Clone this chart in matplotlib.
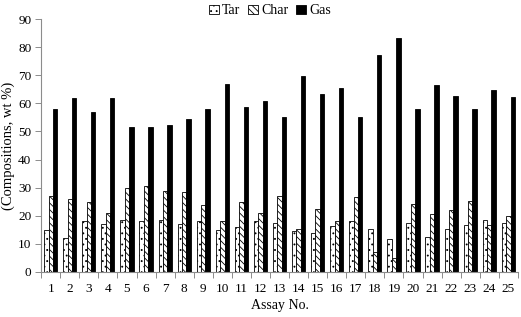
import matplotlib
matplotlib.use("Agg")
import matplotlib.pyplot as plt
import numpy as np

plt.rcParams['font.family'] = ['Liberation Serif', 'DejaVu Serif']
plt.rcParams['hatch.linewidth'] = 0.6

assays = [str(i) for i in range(1, 26)]
tar = [14.9, 12.0, 18.0, 17.0, 18.4, 18.0, 18.4, 17.0, 18.0, 14.9, 15.9, 18.0, 17.4,
       14.5, 14.0, 16.4, 18.0, 15.2, 11.6, 17.4, 12.6, 15.2, 16.6, 18.4, 17.6]
char = [26.9, 25.9, 24.9, 20.9, 29.9, 30.5, 28.9, 28.4, 24.0, 18.0, 24.9, 20.9, 26.9,
        15.4, 22.4, 18.0, 26.6, 7.2, 5.0, 24.3, 20.5, 21.9, 25.3, 16.6, 19.9]
gas = [57.9, 61.8, 56.8, 61.8, 51.5, 51.5, 52.3, 54.3, 57.9, 66.8, 58.8, 60.9, 55.3,
       69.8, 63.3, 65.4, 55.3, 77.2, 83.2, 57.9, 66.7, 62.5, 57.9, 64.9, 62.2]

fig = plt.figure(figsize=(5.21, 3.17), dpi=100)
ax = fig.add_axes([0.079, 0.142, 0.915, 0.798])

x = np.arange(len(assays))
w = 0.23
ax.bar(x - w, tar, w, color='white', edgecolor='black', linewidth=0.6, hatch='...', label='Tar')
ax.bar(x, char, w, color='white', edgecolor='black', linewidth=0.6, hatch='\\\\\\\\\\', label='Char')
ax.bar(x + w, gas, w, color='black', edgecolor='black', linewidth=0.6, label='Gas')

axis_grey = '#8c8c8c'
ax.set_xlim(-0.5, len(assays) - 0.5)
ax.set_ylim(0, 90)
ax.set_yticks(range(0, 91, 10))
ax.set_xticks(x)
ax.set_xticklabels(assays)
ax.set_xticks(np.arange(-0.5, len(assays), 1), minor=True)
ax.tick_params(axis='x', which='major', length=0, labelsize=9.5, pad=8)
ax.tick_params(axis='x', which='minor', length=4, direction='out', width=0.7, color=axis_grey)
ax.tick_params(axis='y', labelsize=9.5, length=4, width=0.7, color=axis_grey, pad=3)
for s in ['top', 'right']:
    ax.spines[s].set_visible(False)
for s in ['left', 'bottom']:
    ax.spines[s].set_linewidth(0.8)
    ax.spines[s].set_color(axis_grey)

ax.set_xlabel('Assay No.', fontsize=10, labelpad=3)
ax.set_ylabel('(Compositions, wt %)', fontsize=10.5, labelpad=2)

ax.legend(loc='upper center', bbox_to_anchor=(0.48, 1.085), ncol=3, frameon=False,
          fontsize=10, handlelength=0.7, handleheight=0.7, handletextpad=0.2,
          columnspacing=0.6, borderpad=0)

fig.savefig('out.png', dpi=100)
